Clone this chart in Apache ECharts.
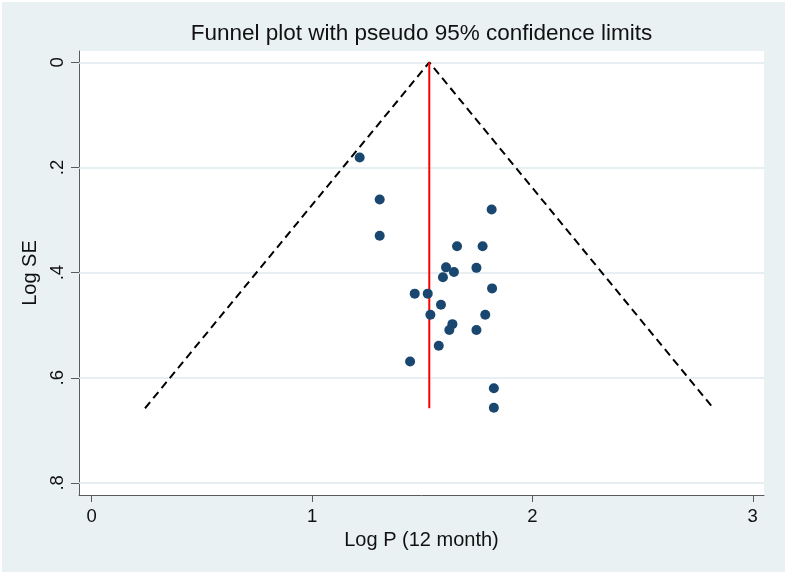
<!DOCTYPE html>
<html>
<head>
<meta charset="utf-8">
<script src="https://cdn.jsdelivr.net/npm/echarts@6/dist/echarts.min.js"></script>
<style>
html,body{margin:0;padding:0;background:#ffffff;}
#chart{width:787px;height:574px;}
</style>
</head>
<body>
<div id="chart"></div>
<script>
// Study estimates (Log P, Log SE)
const logP  = [1.216, 1.307, 1.307, 1.815, 1.658, 1.774, 1.608, 1.746, 1.644, 1.594, 1.817, 1.466, 1.525, 1.585, 1.537, 1.786, 1.637, 1.623, 1.746, 1.575, 1.445, 1.825, 1.825];
const logSE = [0.181, 0.261, 0.330, 0.280, 0.350, 0.350, 0.390, 0.391, 0.399, 0.409, 0.430, 0.440, 0.440, 0.461, 0.480, 0.480, 0.498, 0.509, 0.509, 0.539, 0.569, 0.620, 0.657];
// Pseudo 95% confidence limits (funnel) and pooled estimate line
const funnelX = [0.242, 1.532, 2.821];
const funnelY = [0.658, 0.000, 0.658];
const pooledX = [1.532, 1.532];
const pooledY = [0.000, 0.658];
// Axis ticks
const xTicks = [0, 1, 2, 3];
const yTicks = [0, 0.2, 0.4, 0.6, 0.8];

const FONT = '"Liberation Sans", Arial, sans-serif';
const chart = echarts.init(document.getElementById('chart'));

const points = logP.map((x, i) => [x, logSE[i]]);
const funnel = funnelX.map((x, i) => [x, funnelY[i]]);
const pooled = pooledX.map((x, i) => [x, pooledY[i]]);

chart.setOption({
  animation: false,
  backgroundColor: '#ffffff',
  graphic: [
    { type: 'rect', z: -10, shape: { x: 2, y: 2, width: 783, height: 570 }, style: { fill: '#eaf1f3' } },
    { type: 'text', x: 421.5, y: 33.5, style: { text: 'Funnel plot with pseudo 95% confidence limits', fontSize: 22.5, fontFamily: FONT, fill: '#111111', align: 'center', verticalAlign: 'middle' } }
  ],
  grid: { left: 79, right: 23, top: 51, bottom: 79, show: true, backgroundColor: '#ffffff', borderWidth: 0 },
  xAxis: {
    type: 'value', min: -0.0576, max: 3.051,
    name: 'Log P (12 month)', nameLocation: 'middle', nameGap: 31,
    nameTextStyle: { fontSize: 20, fontFamily: FONT, color: '#111111' },
    axisLine: { onZero: false, lineStyle: { color: '#5a5a5a', width: 1 } },
    axisTick: { customValues: xTicks, length: 7, lineStyle: { color: '#5a5a5a' } },
    axisLabel: { customValues: xTicks, fontSize: 18.5, fontFamily: FONT, color: '#111111', margin: 12, formatter: v => String(v) },
    splitLine: { show: false }
  },
  yAxis: {
    type: 'value', inverse: true, min: -0.0215, max: 0.823,
    name: 'Log SE', nameLocation: 'middle', nameGap: 37, nameRotate: 90,
    nameTextStyle: { fontSize: 20, fontFamily: FONT, color: '#111111' },
    axisLine: { onZero: false, lineStyle: { color: '#5a5a5a', width: 1 } },
    axisTick: { customValues: yTicks, length: 8, lineStyle: { color: '#5a5a5a' } },
    axisLabel: { customValues: yTicks, rotate: 90, fontSize: 18.5, fontFamily: FONT, color: '#111111', margin: 12,
      formatter: v => (Math.abs(v) < 1e-9 ? '0' : String(+v.toFixed(2)).replace(/^0/, '')) },
    splitLine: { show: false }
  },
  series: [
    {
      type: 'line', data: funnel, symbol: 'none', silent: true, z: 2,
      lineStyle: { color: '#000000', width: 2, type: [8, 5] },
      markLine: {
        silent: true, symbol: 'none', label: { show: false }, z: 1,
        lineStyle: { color: '#e1eaee', width: 1.5, type: 'solid' },
        data: yTicks.map(v => ({ yAxis: v }))
      }
    },
    {
      type: 'line', data: pooled, symbol: 'none', silent: true, z: 3,
      lineStyle: { color: '#ff0000', width: 2, type: 'solid' }
    },
    {
      type: 'scatter', data: points, symbol: 'circle', symbolSize: 10, z: 4,
      itemStyle: { color: '#1a476f', opacity: 1 }
    }
  ]
});
</script>
</body>
</html>
